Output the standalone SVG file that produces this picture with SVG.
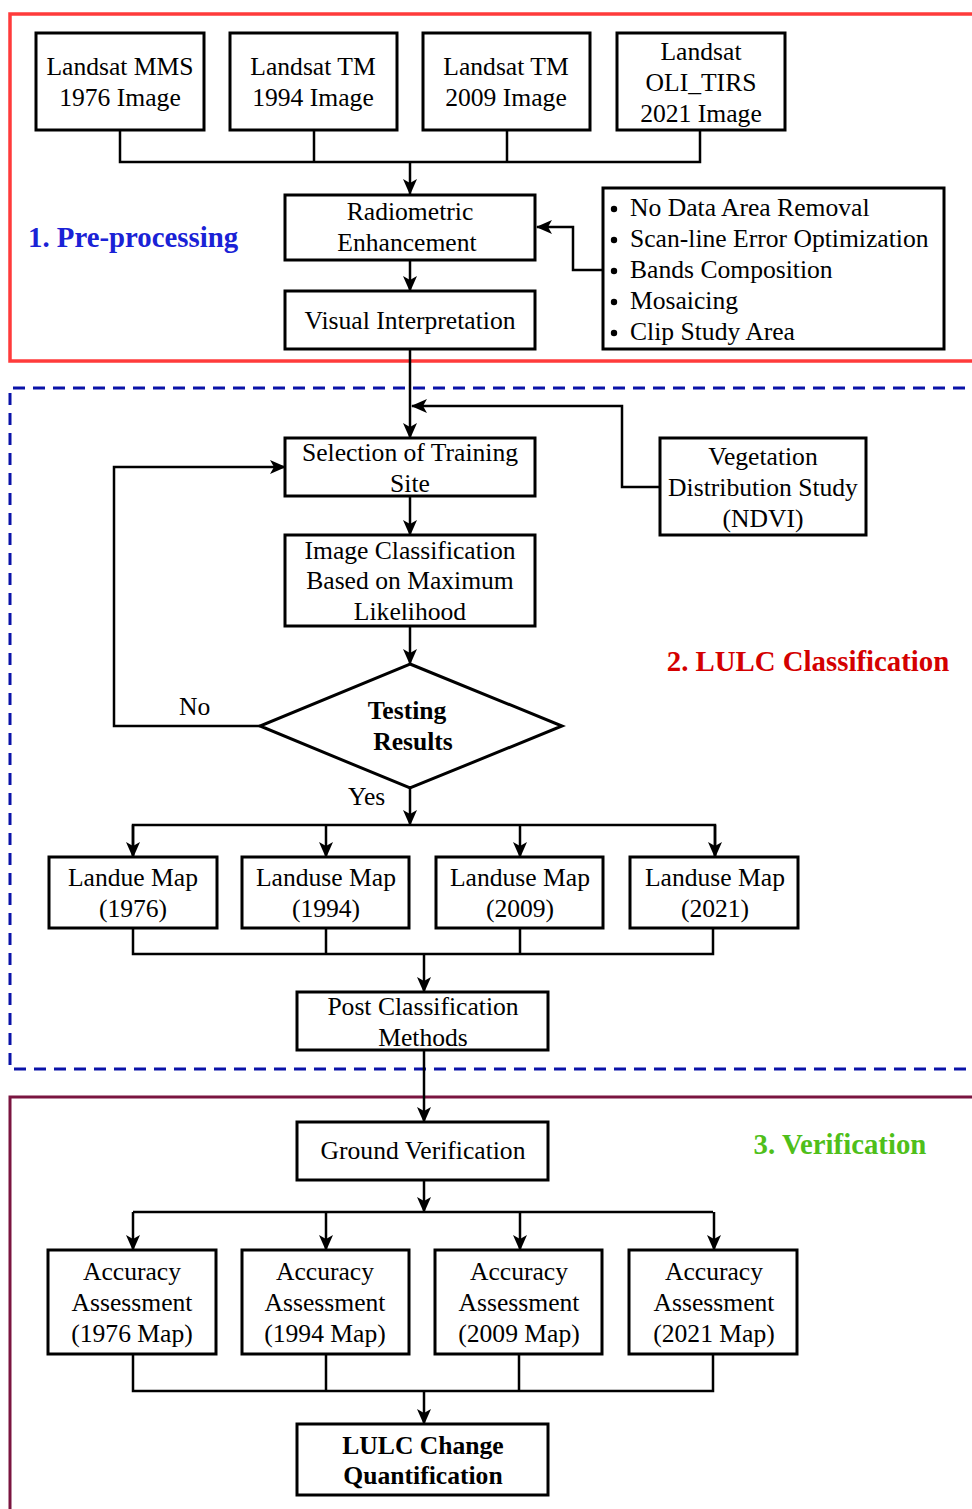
<svg xmlns="http://www.w3.org/2000/svg" width="972" height="1509" viewBox="0 0 972 1509">
<style>
.bx{fill:#fff;stroke:#000;stroke-width:3}
.t{font-family:"Liberation Serif","Times New Roman",serif;font-size:25.6px;fill:#000;text-anchor:middle}
.tl{font-family:"Liberation Serif","Times New Roman",serif;font-size:25.6px;fill:#000}
.b{font-weight:bold}
.c{fill:none;stroke:#000;stroke-width:2.5}
.h{font-family:"Liberation Serif","Times New Roman",serif;font-size:28.8px;font-weight:bold}
.dot{fill:#000}
</style>
<defs>
<marker id="ar" markerUnits="userSpaceOnUse" markerWidth="16" markerHeight="14" viewBox="0 0 16 14" refX="15" refY="7" orient="auto">
<path d="M0,0 L16,7 L0,14 L4,7 z" fill="#000"/>
</marker>
</defs>
<rect width="972" height="1509" fill="#fff"/>
<g id="frames">
<rect x="10" y="14" width="1000" height="347" fill="none" stroke="#ff3b3b" stroke-width="3.5"/>
<path d="M985,388 H10 V1069 H985" fill="none" stroke="#0a12a8" stroke-width="3" stroke-dasharray="12,8"/>
<path d="M985,1097 H10 V1520" fill="none" stroke="#7a1540" stroke-width="3"/>
<text class="h" x="28" y="247" fill="#1a22d6">1. Pre-processing</text>
<text class="h" x="808" y="671" fill="#d40000" text-anchor="middle">2. LULC Classification</text>
<text class="h" x="840" y="1154" fill="#4fbf1a" text-anchor="middle">3. Verification</text>
</g>
<g id="connectors">
<path class="c" d="M120,130 V162 H700 V130 M314,130 V162 M507,130 V162"/>
<path class="c" d="M410,162 V194" marker-end="url(#ar)"/>
<path class="c" d="M410,260 V291" marker-end="url(#ar)"/>
<path class="c" d="M603,270 H573 V227 H537" marker-end="url(#ar)"/>
<path class="c" d="M410,349 V438" marker-end="url(#ar)"/>
<path class="c" d="M660,487 H622 V406 H412" marker-end="url(#ar)"/>
<path class="c" d="M410,496 V535" marker-end="url(#ar)"/>
<path class="c" d="M410,626 V664" marker-end="url(#ar)"/>
<path class="c" d="M260,726 H114 V467 H285" marker-end="url(#ar)"/>
<path class="c" d="M410,788 V825" marker-end="url(#ar)"/>
<path class="c" d="M133,857 V825 H715 V857"/>
<path class="c" d="M133,825 V857" marker-end="url(#ar)"/>
<path class="c" d="M326,825 V857" marker-end="url(#ar)"/>
<path class="c" d="M520,825 V857" marker-end="url(#ar)"/>
<path class="c" d="M715,825 V857" marker-end="url(#ar)"/>
<path class="c" d="M133,928 V954 H713 V928 M326,928 V954 M520,928 V954"/>
<path class="c" d="M424,954 V992" marker-end="url(#ar)"/>
<path class="c" d="M424,1050 V1122" marker-end="url(#ar)"/>
<path class="c" d="M424,1180 V1212" marker-end="url(#ar)"/>
<path class="c" d="M133,1212 H713"/>
<path class="c" d="M133,1212 V1250" marker-end="url(#ar)"/>
<path class="c" d="M326,1212 V1250" marker-end="url(#ar)"/>
<path class="c" d="M520,1212 V1250" marker-end="url(#ar)"/>
<path class="c" d="M714,1212 V1250" marker-end="url(#ar)"/>
<path class="c" d="M133,1354 V1391 H713 V1354 M326,1354 V1391 M519,1354 V1391"/>
<path class="c" d="M424,1391 V1424" marker-end="url(#ar)"/>
<text class="tl" x="179" y="715">No</text>
<text class="tl" x="348" y="805">Yes</text>
</g>
<g id="n_mms"><rect class="bx" x="36" y="33" width="168" height="97"/><text class="t" x="120" y="75">Landsat MMS</text><text class="t" x="120" y="106">1976 Image</text></g>
<g id="n_tm94"><rect class="bx" x="230" y="33" width="167" height="97"/><text class="t" x="313" y="75">Landsat TM</text><text class="t" x="313" y="106">1994 Image</text></g>
<g id="n_tm09"><rect class="bx" x="423" y="33" width="167" height="97"/><text class="t" x="506" y="75">Landsat TM</text><text class="t" x="506" y="106">2009 Image</text></g>
<g id="n_oli"><rect class="bx" x="617" y="33" width="168" height="97"/><text class="t" x="701" y="60">Landsat</text><text class="t" x="701" y="91">OLI_TIRS</text><text class="t" x="701" y="122">2021 Image</text></g>
<g id="n_radio"><rect class="bx" x="285" y="195" width="250" height="65"/><text class="t" x="410" y="220">Radiometric</text><text class="t" x="407" y="251">Enhancement</text></g>
<g id="n_visual"><rect class="bx" x="285" y="291" width="250" height="58"/><text class="t" x="410" y="329">Visual Interpretation</text></g>
<g id="n_list"><rect class="bx" x="603" y="188" width="341" height="161"/>
<circle class="dot" cx="614" cy="209" r="3.2"/><text class="tl" x="630" y="216">No Data Area Removal</text>
<circle class="dot" cx="614" cy="240" r="3.2"/><text class="tl" x="630" y="247">Scan-line Error Optimization</text>
<circle class="dot" cx="614" cy="271" r="3.2"/><text class="tl" x="630" y="278">Bands Composition</text>
<circle class="dot" cx="614" cy="302" r="3.2"/><text class="tl" x="630" y="309">Mosaicing</text>
<circle class="dot" cx="614" cy="333" r="3.2"/><text class="tl" x="630" y="340">Clip Study Area</text></g>
<g id="n_train"><rect class="bx" x="285" y="438" width="250" height="58"/><text class="t" x="410" y="461">Selection of Training</text><text class="t" x="410" y="492">Site</text></g>
<g id="n_veg"><rect class="bx" x="660" y="438" width="206" height="97"/><text class="t" x="763" y="465">Vegetation</text><text class="t" x="763" y="496">Distribution Study</text><text class="t" x="763" y="527">(NDVI)</text></g>
<g id="n_class"><rect class="bx" x="285" y="535" width="250" height="91"/><text class="t" x="410" y="559">Image Classification</text><text class="t" x="410" y="589">Based on Maximum</text><text class="t" x="410" y="620">Likelihood</text></g>
<g id="n_test"><polygon class="bx" points="410,664 562,726 410,788 260,726"/><text class="t b" x="407" y="719">Testing</text><text class="t b" x="413" y="750">Results</text></g>
<g id="n_lu76"><rect class="bx" x="49" y="857" width="168" height="71"/><text class="t" x="133" y="886">Landue Map</text><text class="t" x="133" y="917">(1976)</text></g>
<g id="n_lu94"><rect class="bx" x="242" y="857" width="167" height="71"/><text class="t" x="326" y="886">Landuse Map</text><text class="t" x="326" y="917">(1994)</text></g>
<g id="n_lu09"><rect class="bx" x="436" y="857" width="167" height="71"/><text class="t" x="520" y="886">Landuse Map</text><text class="t" x="520" y="917">(2009)</text></g>
<g id="n_lu21"><rect class="bx" x="630" y="857" width="168" height="71"/><text class="t" x="715" y="886">Landuse Map</text><text class="t" x="715" y="917">(2021)</text></g>
<g id="n_post"><rect class="bx" x="297" y="992" width="251" height="58"/><text class="t" x="423" y="1015">Post Classification</text><text class="t" x="423" y="1046">Methods</text></g>
<g id="n_ground"><rect class="bx" x="297" y="1122" width="251" height="58"/><text class="t" x="423" y="1159">Ground Verification</text></g>
<g id="n_aa76"><rect class="bx" x="48" y="1250" width="168" height="104"/><text class="t" x="132" y="1280">Accuracy</text><text class="t" x="132" y="1311">Assessment</text><text class="t" x="132" y="1342">(1976 Map)</text></g>
<g id="n_aa94"><rect class="bx" x="242" y="1250" width="167" height="104"/><text class="t" x="325" y="1280">Accuracy</text><text class="t" x="325" y="1311">Assessment</text><text class="t" x="325" y="1342">(1994 Map)</text></g>
<g id="n_aa09"><rect class="bx" x="435" y="1250" width="167" height="104"/><text class="t" x="519" y="1280">Accuracy</text><text class="t" x="519" y="1311">Assessment</text><text class="t" x="519" y="1342">(2009 Map)</text></g>
<g id="n_aa21"><rect class="bx" x="629" y="1250" width="168" height="104"/><text class="t" x="714" y="1280">Accuracy</text><text class="t" x="714" y="1311">Assessment</text><text class="t" x="714" y="1342">(2021 Map)</text></g>
<g id="n_lulc"><rect class="bx" x="297" y="1424" width="251" height="71"/><text class="t b" x="423" y="1454">LULC Change</text><text class="t b" x="423" y="1484">Quantification</text></g>
</svg>
